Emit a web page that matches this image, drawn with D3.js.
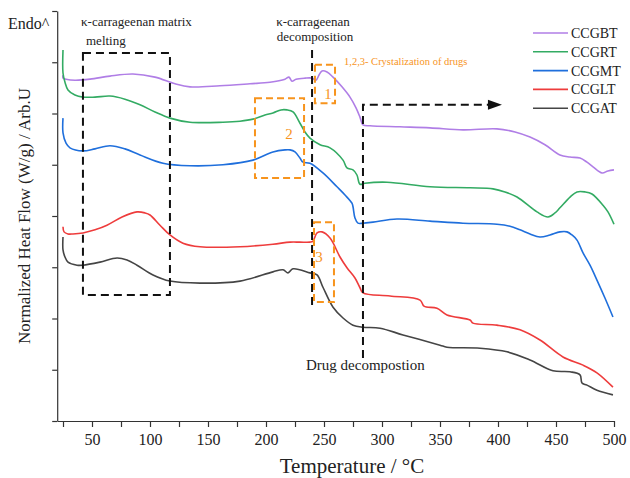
<!DOCTYPE html>
<html>
<head>
<meta charset="utf-8">
<script src="https://cdnjs.cloudflare.com/ajax/libs/d3/7.8.5/d3.min.js"></script>
<style>
  body { margin: 0; background: #fff; }
  svg { display: block; }
  text { font-family: "Liberation Serif", "DejaVu Serif", serif; fill: #222; }
</style>
</head>
<body>
<div id="chart"></div>
<script>
// temperature (°C), normalized heat flow (arb. units, 0-8 on the unlabeled axis)
var seriesNames = ["CCGBT", "CCGRT", "CCGMT", "CCGLT", "CCGAT"];
var seriesColors = ["#b07ee6", "#33ab63", "#1f6fdc", "#ee3c3c", "#454545"];

var ccgbt = [[25,6.75],[25,6.69],[27.6,6.67],[35.3,6.65],[48.3,6.67],[65.5,6.73],[85.3,6.77],[104.3,6.71],
  [121.6,6.58],[134.5,6.52],[160.3,6.54],[186.2,6.58],[203.4,6.61],[216.4,6.67],[219.8,6.71],[222.4,6.63],
  [225.9,6.67],[233.6,6.69],[239.7,6.69],[243.1,6.65],[245.7,6.75],[248.3,6.83],[252.6,6.81],[257.8,6.71],
  [265.5,6.52],[272.4,6.32],[277.6,6.11],[281,5.93],[283.6,5.78],[289.7,5.76],[315.5,5.74],[341.4,5.72],
  [369.8,5.68],[399.1,5.70],[414.7,5.64],[427.6,5.54],[440.5,5.39],[453.4,5.19],[462.1,5.15],[470.7,5.13],
  [476.7,5.05],[481.9,4.96],[489.7,4.84],[494.8,4.88],[500,4.90]];

var ccgrt = [[25,7.24],[25,6.79],[26.7,6.61],[29.3,6.46],[35.3,6.36],[42.2,6.32],[52.6,6.32],[65.5,6.34],
  [78.4,6.28],[91.4,6.17],[104.3,6.03],[117.2,5.91],[134.5,5.83],[162.9,5.83],[177.6,5.85],[188.8,5.89],
  [199.1,5.97],[206,6.01],[212.9,6.07],[218.1,6.07],[223.3,6.03],[229.3,5.81],[233.6,5.64],[237.9,5.52],
  [246.6,5.39],[255.2,5.33],[266.4,5.09],[269.8,4.94],[275,4.90],[278.4,4.80],[281,4.62],[285.3,4.64],
  [304.3,4.66],[341.4,4.57],[375.9,4.55],[395.7,4.53],[406,4.47],[416.4,4.37],[433.6,4.08],[443.1,3.98],
  [449.1,4.06],[453.4,4.16],[462.1,4.37],[468.1,4.47],[475,4.47],[481,4.43],[490.5,4.21],[494.8,4.08],
  [500,3.84]];

var ccgmt = [[25,5.91],[25,5.62],[27.6,5.42],[31,5.33],[42.2,5.27],[52.6,5.31],[65.5,5.37],[78.4,5.31],
  [91.4,5.19],[111.2,5.03],[134.5,4.98],[162.9,5.00],[188.8,5.09],[206,5.25],[216.4,5.29],[220.7,5.29],
  [225,5.25],[229.3,5.13],[231.9,5.05],[237.9,5.03],[249.1,4.84],[261.2,4.57],[268.1,4.41],[274.1,4.25],
  [275,4.18],[276.7,3.96],[279.3,3.86],[283.6,3.86],[292.2,3.88],[312.9,3.94],[341.4,3.90],[369.8,3.86],
  [399.1,3.84],[410.3,3.80],[419,3.73],[427.6,3.65],[436.2,3.59],[444.8,3.63],[453.4,3.69],[459.5,3.69],
  [463.8,3.63],[468.1,3.53],[473.3,3.28],[479.3,3.04],[485.3,2.75],[492.2,2.40],[499.1,2.03]];

var ccglt = [[25,3.79],[25.9,3.69],[29.3,3.65],[33.6,3.65],[42.2,3.67],[52.6,3.73],[62.9,3.82],[75.9,3.98],
  [88.8,4.08],[95.7,4.06],[100,4.02],[108.6,3.82],[117.2,3.63],[128.4,3.47],[143.1,3.40],[177.6,3.40],
  [206,3.45],[220.7,3.49],[229.3,3.49],[237.9,3.49],[240.5,3.51],[244,3.67],[248.3,3.69],[255.2,3.57],
  [263.8,3.20],[269.8,2.99],[276.7,2.79],[281,2.60],[283.6,2.50],[306.9,2.44],[332.8,2.36],[336.2,2.24],
  [347.4,2.20],[356,2.07],[375.9,1.97],[378.4,1.91],[399.1,1.87],[419,1.78],[436.2,1.58],[456,1.25],
  [473.3,1.09],[485.3,0.94],[499.1,0.66]];

var ccgat = [[25,3.59],[25,3.34],[26.7,3.20],[29.3,3.10],[37.1,3.04],[42.2,3.04],[56.9,3.10],[71.6,3.18],
  [80.2,3.14],[88.8,3.04],[102.6,2.85],[117.2,2.73],[143.1,2.69],[177.6,2.73],[206,2.91],[214.7,2.95],
  [219,2.89],[223.3,2.97],[237.9,2.89],[244,2.85],[249.1,2.61],[257.8,2.22],[266.4,2.01],[275,1.87],
  [283.6,1.83],[298.3,1.81],[318.1,1.68],[350,1.48],[356,1.44],[384.5,1.42],[407.8,1.35],[427.6,1.19],
  [447.4,0.98],[462.1,0.96],[470.7,0.90],[472.4,0.74],[476.7,0.70],[485.3,0.60],[499.1,0.51]];

var seriesData = [ccgbt, ccgrt, ccgmt, ccglt, ccgat];

var xTicks = d3.range(25, 501, 25);
var yTicks = d3.range(0, 9, 1);

// annotation regions, in data units: [t0, t1, v0, v1]
var meltingBox = [42.2, 117.2, 2.46, 7.18];
var crystBoxes = [
  {label: "1", box: [242.2, 259.5, 6.20, 6.95], at: [253.4, 6.28]},
  {label: "2", box: [190.5, 232.8, 4.74, 6.30], at: [219.8, 5.50]},
  {label: "3", box: [241.4, 258.6, 2.32, 3.88], at: [245.7, 3.10]}
];
var decompLine = [239.7, 2.17, 7.24];
var drugLine = [283.6, 1.23, 6.17, 403.4];

var svg = d3.select("#chart").append("svg")
  .attr("width", 630)
  .attr("height", 478);

var x = d3.scaleLinear().domain([20, 500]).range([57.2, 614]);
var y = d3.scaleLinear().domain([0, 8]).range([421, 11]);

// axes
var xAxis = d3.axisBottom(x)
  .tickValues(xTicks)
  .tickSize(6)
  .tickSizeOuter(0)
  .tickPadding(7)
  .tickFormat(function(d) { return d % 50 === 0 ? d : ""; });
var yAxis = d3.axisLeft(y)
  .tickValues(yTicks)
  .tickSize(5)
  .tickSizeOuter(0)
  .tickFormat("");

var gx = svg.append("g")
  .attr("class", "x-axis axis")
  .attr("transform", "translate(0," + y(0) + ")")
  .call(xAxis);
gx.selectAll("text")
  .style("font-family", "'Liberation Serif', serif")
  .style("font-size", "16px")
  .attr("fill", "#222");

var gy = svg.append("g")
  .attr("class", "y-axis axis")
  .attr("transform", "translate(" + x(20) + ",0)")
  .call(yAxis);

svg.selectAll(".axis path, .axis line")
  .attr("stroke", "#333")
  .attr("stroke-width", 1.2);

svg.append("text")
  .attr("x", 352)
  .attr("y", 473)
  .attr("text-anchor", "middle")
  .style("font-size", "21px")
  .text("Temperature / °C");

svg.append("text")
  .attr("transform", "translate(30,216) rotate(-90)")
  .attr("text-anchor", "middle")
  .style("font-size", "17px")
  .text("Normalized Heat Flow (W/g) / Arb.U");

svg.append("text")
  .attr("x", 8)
  .attr("y", 29)
  .style("font-size", "16px")
  .text("Endo^");

// curves
var line = d3.line()
  .x(function(d) { return x(d[0]); })
  .y(function(d) { return y(d[1]); })
  .curve(d3.curveCatmullRom.alpha(0.5));

svg.selectAll(".curve")
  .data(seriesData)
  .enter().append("path")
  .attr("class", "curve")
  .attr("d", line)
  .attr("fill", "none")
  .attr("stroke", function(d, i) { return seriesColors[i]; })
  .attr("stroke-width", 1.6);

// black dashed annotations
var blackDash = "8,5";
svg.append("rect")
  .attr("x", x(meltingBox[0]))
  .attr("y", y(meltingBox[3]))
  .attr("width", x(meltingBox[1]) - x(meltingBox[0]))
  .attr("height", y(meltingBox[2]) - y(meltingBox[3]))
  .attr("fill", "none")
  .attr("stroke", "#111")
  .attr("stroke-width", 2)
  .attr("stroke-dasharray", blackDash);

svg.append("line")
  .attr("x1", x(decompLine[0])).attr("x2", x(decompLine[0]))
  .attr("y1", y(decompLine[2])).attr("y2", y(decompLine[1]))
  .attr("stroke", "#111")
  .attr("stroke-width", 2)
  .attr("stroke-dasharray", blackDash);

svg.append("path")
  .attr("d", "M" + x(drugLine[0]) + "," + y(drugLine[1]) +
             "V" + y(drugLine[2]) +
             "H" + (x(drugLine[3]) - 12))
  .attr("fill", "none")
  .attr("stroke", "#111")
  .attr("stroke-width", 2)
  .attr("stroke-dasharray", blackDash);

var tipX = x(drugLine[3]), tipY = y(drugLine[2]);
svg.append("path")
  .attr("d", "M" + tipX + "," + tipY + "L" + (tipX - 14) + "," + (tipY - 5) + "L" + (tipX - 14) + "," + (tipY + 5) + "Z")
  .attr("fill", "#111");

// orange crystallisation boxes
var orange = "#f7941d";
var cb = svg.selectAll(".cryst")
  .data(crystBoxes)
  .enter().append("g")
  .attr("class", "cryst");
cb.append("rect")
  .attr("x", function(d) { return x(d.box[0]); })
  .attr("y", function(d) { return y(d.box[3]); })
  .attr("width", function(d) { return x(d.box[1]) - x(d.box[0]); })
  .attr("height", function(d) { return y(d.box[2]) - y(d.box[3]); })
  .attr("fill", "none")
  .attr("stroke", orange)
  .attr("stroke-width", 2)
  .attr("stroke-dasharray", "7,4");
cb.append("text")
  .attr("x", function(d) { return x(d.at[0]); })
  .attr("y", function(d) { return y(d.at[1]); })
  .attr("text-anchor", "middle")
  .style("font-size", "15px")
  .style("fill", orange)
  .text(function(d) { return d.label; });

// text notes
var notes = [
  {t: "\u03ba-carrageenan matrix", x: 81, y: 26, size: 13, anchor: "start"},
  {t: "melting", x: 86, y: 45, size: 13, anchor: "start"},
  {t: "\u03ba-carrageenan", x: 313, y: 26, size: 13, anchor: "middle"},
  {t: "decomposition", x: 315, y: 41, size: 13, anchor: "middle"},
  {t: "Drug decompostion", x: 306, y: 370, size: 15, anchor: "start"}
];
svg.selectAll(".note")
  .data(notes)
  .enter().append("text")
  .attr("class", "note")
  .attr("x", function(d) { return d.x; })
  .attr("y", function(d) { return d.y; })
  .attr("text-anchor", function(d) { return d.anchor; })
  .style("font-size", function(d) { return d.size + "px"; })
  .text(function(d) { return d.t; });

svg.append("text")
  .attr("x", 344)
  .attr("y", 65)
  .style("font-size", "10.5px")
  .style("fill", orange)
  .text("1,2,3- Crystalization of drugs");

// legend
var legend = svg.selectAll(".legend")
  .data(seriesNames)
  .enter().append("g")
  .attr("class", "legend")
  .attr("transform", function(d, i) { return "translate(533," + (33 + i * 18.8) + ")"; });
legend.append("line")
  .attr("x1", 0).attr("x2", 35)
  .attr("stroke", function(d, i) { return seriesColors[i]; })
  .attr("stroke-width", 1.6);
legend.append("text")
  .attr("x", 38)
  .attr("y", 5)
  .style("font-size", "14px")
  .text(function(d) { return d; });
</script>
</body>
</html>
